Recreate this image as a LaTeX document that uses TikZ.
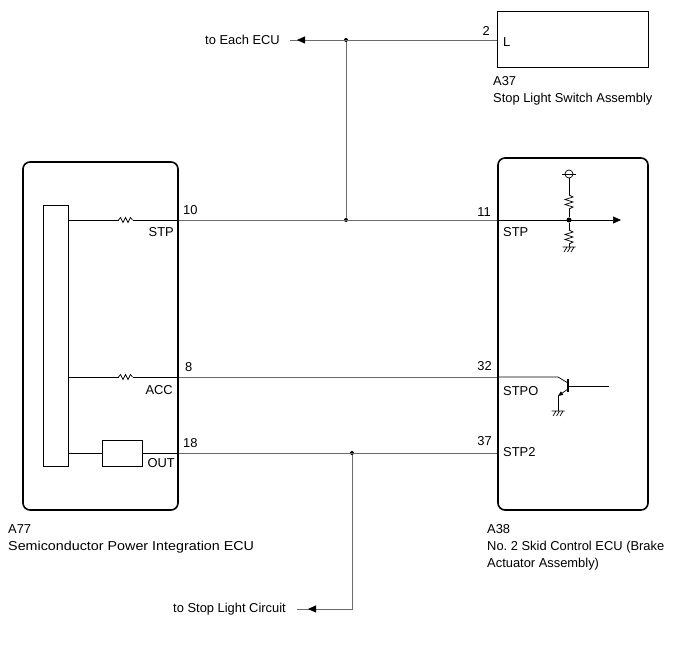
\documentclass[tikz,border=0pt]{standalone}
\usepackage{fontspec}
\usepackage{graphicx}
\setmainfont{Liberation Sans}
\usetikzlibrary{arrows.meta,decorations.markings}
\tikzset{
  ecu/.style={draw, line width=1.6pt, rounded corners=7pt, inner sep=0pt},
  part/.style={draw, line width=0.8pt, inner sep=0pt},
  wire/.style={draw=black!58, line width=0.8pt},
  inwire/.style={draw, line width=0.7pt},
  lbl/.style={inner sep=0pt, font=\fontsize{12.9}{17}\selectfont, align=left},
  jdot/.style={circle, fill, inner sep=0pt, minimum size=#1},
  jdot/.default=4pt,
  midarrow/.style={postaction={decorate}, decoration={markings,
      mark=at position -#1 with {\arrow[black]{Triangle[length=8pt,width=7pt]}}}},
  hres/.pic={\draw[line width=0.7pt] (-7,0) -- (-5,-2.5) -- (-2.5,2.5) -- (0,-2.5)
      -- (2.5,2.5) -- (5,-2.5) -- (7,0);},
  vres/.pic={\draw[line width=0.7pt] (0,-7) -- (4,-5) -- (-4,-2.5) -- (4,0)
      -- (-4,2.5) -- (4,5) -- (0,7);},
  gnd/.pic={\draw[line width=0.7pt] (-6.5,0) -- (6.5,0)
      (-2,0) -- (-5,5) (1.5,0) -- (-1.5,5) (5,0) -- (2,5);}
}
\begin{document}
\begin{tikzpicture}[x=1pt, y=-1pt]
\useasboundingbox (0,0) rectangle (688,658);

% modules
\node[part, minimum width=151pt, minimum height=56pt] (a37) at (572.5,39) {};
\node[ecu, minimum width=155pt, minimum height=348pt] (a77) at (100.5,336) {};
\node[ecu, minimum width=150pt, minimum height=352pt] (a38) at (573,334) {};
\node[part, minimum width=25pt, minimum height=261pt] (spu) at (55.5,335.5) {};
\node[part, minimum width=40pt, minimum height=26pt] (drv) at (122,453) {};

% module names
\node[lbl, anchor=north west] at (493,76) {A37\\Stop Light Switch Assembly};
\node[lbl, anchor=north west] at (8,524) {A77\\\scalebox{1.11}[1]{Semiconductor Power Integration ECU}};
\node[lbl, anchor=north west] at (487,524) {A38\\No.\ 2 Skid Control ECU (Brake\\Actuator Assembly)};

% pins
\coordinate (p2) at (a37.west |- 0,40);
\coordinate (p10) at (a77.east |- 0,220);
\coordinate (p8) at (a77.east |- 0,377);
\coordinate (p18) at (a77.east |- 0,453);
\coordinate (p11) at (a38.west |- 0,220);
\coordinate (p32) at (a38.west |- 0,377);
\coordinate (p37) at (a38.west |- 0,453);
\node[lbl, anchor=east] at (490,31) {2};
\node[lbl, anchor=west] at (503,42) {L};
\node[lbl, anchor=west] at (183,210) {10};
\node[lbl, anchor=east] at (174,232) {STP};
\node[lbl, anchor=west] at (185,367) {8};
\node[lbl, anchor=east] at (173,390) {ACC};
\node[lbl, anchor=west] at (183,443) {18};
\node[lbl, anchor=east] at (175,463) {OUT};
\node[lbl, anchor=east] at (491,212) {11};
\node[lbl, anchor=west] at (503,232) {STP};
\node[lbl, anchor=east] at (492,366) {32};
\node[lbl, anchor=west] at (503,391) {STPO};
\node[lbl, anchor=east] at (492,441) {37};
\node[lbl, anchor=west] at (503,452) {STP2};

% outside wires
\node[lbl, anchor=east] (toecu) at (280,40) {to Each ECU};
\node[lbl, anchor=east] (tostop) at (286,609) {to Stop Light Circuit};
\node[jdot] (j1) at (346,40) {};
\node[jdot] (j2) at (346,220) {};
\node[jdot] (j3) at (352,453) {};
\coordinate (c1) at (352,609);
\draw[wire, midarrow=7pt] (p2) -- ([xshift=10pt]toecu.east);
\draw[wire] (j1) -- (j2);
\draw[wire] (p10) -- (p11);
\draw[wire] (p8) -- (p32);
\draw[wire] (p18) -- (p37);
\draw[wire, midarrow=11pt] (j3) -- (c1) -- ([xshift=11pt]tostop.east);

% inside A77
\pic at (125.5,220) {hres};
\pic at (125.5,377) {hres};
\draw[inwire] (spu.east |- 0,220) -- (118.5,220) (132.5,220) -- (p10);
\draw[inwire] (spu.east |- 0,377) -- (118.5,377) (132.5,377) -- (p8);
\draw[inwire] (spu.east |- 0,453) -- (drv.west);
\draw[inwire] (drv.east) -- (p18);

% inside A38
\node[jdot=5pt] (j4) at (569,220) {};
\coordinate (out) at (621,220);
\draw[inwire, -{Triangle[length=8pt,width=7pt]}] (p11) -- (out);
\node[circle, draw, line width=0.7pt, inner sep=0pt, minimum size=8pt] (vcc) at (569,174) {};
\draw[inwire] (562,174) -- (576,174);
\pic at (569,202) {vres};
\pic at (569,237) {vres};
\draw[inwire] (vcc) -- (569,195) (569,209) -- (j4) -- (569,230) (569,244) -- (569,247);
\pic at (569,247) {gnd};
% transistor
\coordinate (tc) at (558,377);
\coordinate (te) at (558,396);
\draw[inwire] (p32) -- (tc) -- (568,383);
\draw[line width=1.2pt] (568,379) -- (568,392);
\draw[inwire] (568,386) -- (609,386);
\draw[inwire, -{Triangle[length=5pt,width=4pt]}] (568,389) -- (te);
\draw[inwire] (te) -- (558,411);
\pic at (558,411) {gnd};
\end{tikzpicture}
\end{document}
